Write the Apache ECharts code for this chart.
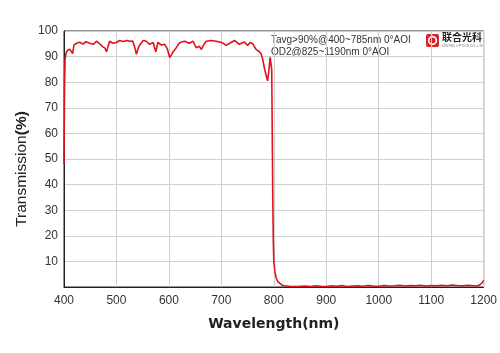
<!DOCTYPE html>
<html>
<head>
<meta charset="utf-8">
<script src="https://cdn.jsdelivr.net/npm/echarts@6/dist/echarts.min.js"></script>
<style>
  html, body { margin: 0; padding: 0; background: #fff; }
  #main { width: 500px; height: 353px; }
</style>
</head>
<body>
<div id="main"></div>
<script>
// wavelength (nm) and transmission (%)
var wavelength = [400, 401, 402, 404, 407, 411, 414, 416.5, 419, 421, 425, 430, 436, 442, 449, 456, 462, 468,
    473, 478, 481, 484, 487, 493, 500, 506, 513, 520, 526, 531, 535, 538, 541, 544, 551, 557, 563, 570, 575,
    579, 586, 592, 597, 601.5, 605, 608, 614, 620, 625, 630, 639, 646, 652, 658, 662, 666, 671, 680, 687,
    695, 703, 709, 716, 725, 734, 744, 750, 755, 760, 766, 772, 776, 779, 782, 785, 788, 790, 793, 795,
    796, 797, 798, 799, 800, 802, 804, 806, 808, 811, 815, 820, 830, 845, 860, 870, 880, 890, 900, 910,
    920, 930, 940, 950, 960, 970, 980, 990, 1000, 1010, 1020, 1030, 1040, 1050, 1060, 1070, 1080, 1090,
    1100, 1110, 1120, 1130, 1140, 1150, 1160, 1170, 1180, 1190, 1195, 1198, 1200];
var transmission = [48, 78, 89, 91.5, 92.5, 92.9, 92.6, 91.2, 94.6, 95.0, 95.3, 95.6, 94.9, 95.8, 95.2, 94.8, 96.0, 95.0,
    94.0, 93.3, 91.9, 94.0, 96.0, 95.2, 95.5, 96.3, 95.9, 96.3, 96.0, 96.1, 93.5, 90.9, 93.0, 94.4, 96.3, 96.0, 94.8, 95.5, 91.9,
    95.5, 94.5, 94.8, 93.0, 89.6, 90.8, 91.9, 93.5, 95.3, 95.8, 96.0, 95.2, 96.0, 93.5, 94.0, 92.8, 94.5, 96.0, 96.3, 96.1,
    95.8, 95.3, 94.4, 95.2, 96.3, 94.8, 95.7, 94.4, 95.5, 95.0, 92.8, 92.0, 91.0, 88.8, 85.5, 83.0, 80.5, 83.5, 89.7, 90.3,
    85, 60, 35, 18, 10, 6, 4, 2.8, 2, 1.3, 0.8, 0.5, 0.3, 0.2, 0.4, 0.2, 0.5, 0.3, 0.2, 0.5,
    0.3, 0.6, 0.2, 0.4, 0.5, 0.3, 0.6, 0.4, 0.3, 0.6, 0.4, 0.5, 0.7, 0.4, 0.6, 0.5, 0.7, 0.4,
    0.6, 0.5, 0.7, 0.5, 0.8, 0.6, 0.5, 0.7, 0.5, 0.6, 1.2, 2.0, 2.6];

var xTicks = [400, 1200, 100];
var yTicks = [0, 100, 10];

var seriesData = [];
for (var i = 0; i < wavelength.length; i++) {
    seriesData.push([wavelength[i], transmission[i]]);
}

var chart = echarts.init(document.getElementById('main'));

var option = {
    backgroundColor: '#fff',
    animation: false,
    grid: {
        left: 64,
        right: 14,
        top: 31,
        bottom: 66,
        show: true,
        borderColor: '#222',
        borderWidth: 1
    },
    xAxis: {
        type: 'value',
        min: xTicks[0],
        max: xTicks[1],
        interval: xTicks[2],
        name: 'Wavelength(nm)',
        nameLocation: 'middle',
        nameGap: 30,
        nameTextStyle: {
            fontFamily: 'DejaVu Sans',
            fontWeight: 'bold',
            fontSize: 14,
            color: '#222'
        },
        axisLine: {lineStyle: {color: '#222', width: 1}},
        axisTick: {show: false},
        axisLabel: {
            fontFamily: 'Liberation Sans',
            fontSize: 12,
            color: '#333',
            margin: 8,
            formatter: function (v) {
                return String(v);
            }
        },
        splitLine: {lineStyle: {color: '#cfcfcf', width: 1}}
    },
    yAxis: {
        type: 'value',
        min: yTicks[0],
        max: yTicks[1],
        interval: yTicks[2],
        axisLine: {lineStyle: {color: '#222', width: 1}},
        axisTick: {show: false},
        axisLabel: {
            fontFamily: 'Liberation Sans',
            fontSize: 12,
            color: '#333',
            margin: 6,
            formatter: function (v) {
                return v === 0 ? '' : String(v);
            }
        },
        splitLine: {lineStyle: {color: '#cfcfcf', width: 1}}
    },
    series: [{
        type: 'line',
        data: seriesData,
        showSymbol: false,
        smooth: false,
        lineStyle: {color: '#e3111b', width: 1.6},
        itemStyle: {color: '#e3111b'}
    }],
    graphic: [
        {
            // y axis title, placed by hand as in the original
            type: 'text',
            x: 22,
            y: 169,
            rotation: Math.PI / 2,
            style: {
                text: '{a|Transmission}{b|(%)}',
                align: 'center',
                verticalAlign: 'middle',
                rich: {
                    a: {fontFamily: 'Liberation Sans', fontSize: 15.5, fill: '#222'},
                    b: {fontFamily: 'Liberation Sans', fontSize: 15.5, fontWeight: 'bold', fill: '#222'}
                }
            }
        },
        {
            type: 'text',
            left: 271,
            top: 34,
            style: {
                text: 'Tavg>90%@400~785nm 0°AOI\nOD2@825~1190nm 0°AOI',
                fontFamily: 'Liberation Sans',
                fontSize: 10,
                lineHeight: 12,
                fill: '#333'
            }
        },
        {
            type: 'rect',
            shape: {x: 426, y: 34, width: 13, height: 13, r: 2},
            style: {fill: '#d9232b'}
        },
        {
            type: 'circle',
            shape: {cx: 432.5, cy: 40.5, r: 3.8},
            style: {fill: 'none', stroke: '#fff', lineWidth: 1.7}
        },
        {
            type: 'text',
            left: 442,
            top: 32,
            style: {
                text: '联合光科',
                fontFamily: 'Noto Sans CJK SC',
                fontWeight: 'bold',
                fontSize: 10,
                fill: '#222'
            }
        },
        {
            type: 'text',
            left: 442,
            top: 44,
            style: {
                text: 'UNITED OPTICS CO.,LTD',
                fontFamily: 'Liberation Sans',
                fontSize: 3.5,
                fill: '#777'
            }
        }
    ]
};

chart.setOption(option);
</script>
</body>
</html>
